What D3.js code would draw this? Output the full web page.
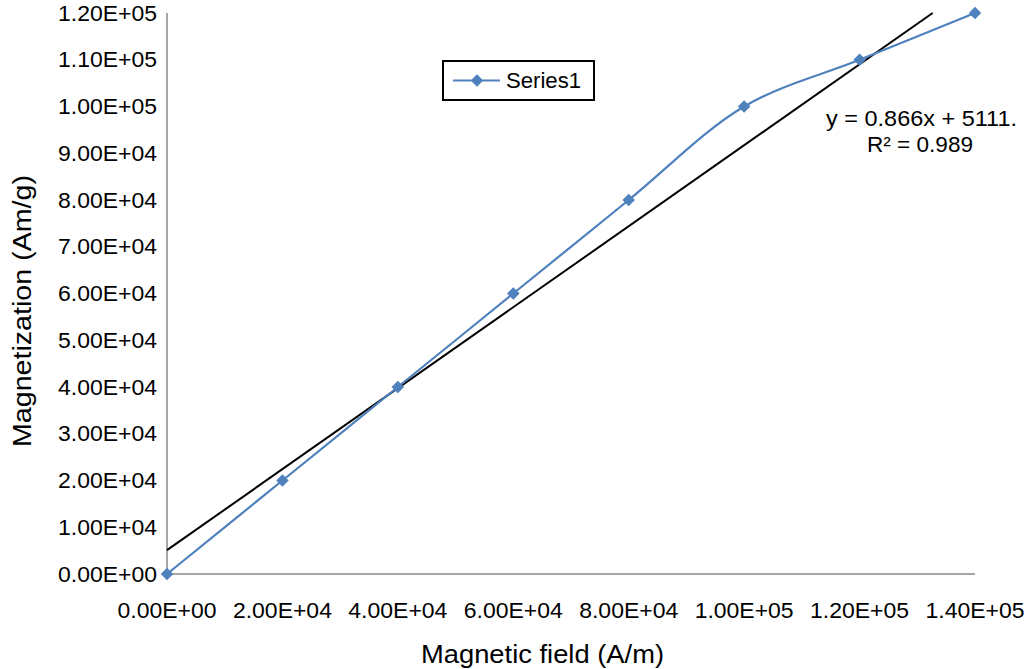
<!DOCTYPE html>
<html><head><meta charset="utf-8">
<script src="https://cdn.jsdelivr.net/npm/d3@7"></script>
<style>body{margin:0;background:#fff}svg{display:block}text{font-family:"Liberation Sans",Arial,sans-serif;fill:#000}</style>
</head><body><svg id="c" width="1024" height="669"></svg>
<script>
const fieldValues = [0, 20000, 40000, 60000, 80000, 100000, 120000, 140000];
const magnetValues = [0, 20000, 40000, 60000, 80000, 100000, 110000, 120000];
const xTicks = [0, 20000, 40000, 60000, 80000, 100000, 120000, 140000];
const yTicks = [0, 10000, 20000, 30000, 40000, 50000, 60000, 70000, 80000, 90000, 100000, 110000, 120000];
const trendSlope = 0.866, trendIntercept = 5111;
const seriesName = "Series1";
const eqLabel = "y = 0.866x + 5111.";
const r2Label = "R² = 0.989";

const svg = d3.select("#c");
const L=167, R=975, T=13, B=574;
const x = d3.scaleLinear().domain([0,140000]).range([L,R]);
const y = d3.scaleLinear().domain([0,120000]).range([B,T]);
const fmt = v => v.toExponential(2).toUpperCase().replace(/E([+-])(\d)$/, "E$10$2");
const blue = "#4F81BD";

svg.append("line").attr("x1",L).attr("x2",R).attr("y1",B).attr("y2",B).attr("stroke","#888").attr("stroke-width",1.5);
svg.append("line").attr("x1",L).attr("x2",L).attr("y1",T).attr("y2",B).attr("stroke","#888").attr("stroke-width",1.5);

svg.selectAll(".yt").data(yTicks).join("text").attr("x",157).attr("y",d=>y(d)).attr("dy","0.36em")
  .attr("text-anchor","end").attr("font-size",21.5).attr("textLength",99).attr("lengthAdjust","spacingAndGlyphs").text(fmt);
svg.selectAll(".xt").data(xTicks).join("text").attr("x",d=>x(d)).attr("y",618)
  .attr("text-anchor","middle").attr("font-size",21.5).attr("textLength",99).attr("lengthAdjust","spacingAndGlyphs").text(fmt);

svg.append("text").attr("x",542.5).attr("y",663).attr("text-anchor","middle").attr("font-size",26)
  .attr("textLength",243).attr("lengthAdjust","spacingAndGlyphs").text("Magnetic field (A/m)");
svg.append("text").attr("transform",`translate(31,311) rotate(-90)`).attr("text-anchor","middle").attr("font-size",26)
  .attr("textLength",272).attr("lengthAdjust","spacingAndGlyphs").text("Magnetization (Am/g)");

const tx1 = 0, tx2 = (120000 - trendIntercept)/trendSlope;
svg.append("line").attr("x1",x(tx1)).attr("y1",y(trendSlope*tx1+trendIntercept))
  .attr("x2",x(tx2)).attr("y2",y(trendSlope*tx2+trendIntercept)).attr("stroke","#000").attr("stroke-width",2);

const pts = fieldValues.map((f,i)=>[f, magnetValues[i]]);
svg.append("path").datum(pts).attr("fill","none").attr("stroke",blue).attr("stroke-width",2.2)
  .attr("d", d3.line().x(d=>x(d[0])).y(d=>y(d[1])).curve(d3.curveCatmullRom.alpha(0.5)));
const diamond = d3.symbol().type(d3.symbolDiamond2).size(100);
svg.selectAll(".m").data(pts).join("path").attr("transform",d=>`translate(${x(d[0])},${y(d[1])})`)
  .attr("d",diamond).attr("fill",blue);

svg.append("rect").attr("x",443).attr("y",61).attr("width",151).attr("height",39).attr("fill","#fff").attr("stroke","#000").attr("stroke-width",2);
svg.append("line").attr("x1",453).attr("x2",500).attr("y1",80.5).attr("y2",80.5).attr("stroke",blue).attr("stroke-width",2.2);
svg.append("path").attr("transform","translate(477,80.5)").attr("d",diamond).attr("fill",blue);
svg.append("text").attr("x",506).attr("y",88).attr("font-size",22).attr("textLength",75).attr("lengthAdjust","spacingAndGlyphs").text(seriesName);

svg.append("text").attr("x",826).attr("y",126).attr("font-size",21.5).attr("textLength",191).attr("lengthAdjust","spacingAndGlyphs").text(eqLabel);
svg.append("text").attr("x",920).attr("y",152).attr("text-anchor","middle").attr("font-size",21.5).attr("textLength",106).attr("lengthAdjust","spacingAndGlyphs").text(r2Label);
</script></body></html>
